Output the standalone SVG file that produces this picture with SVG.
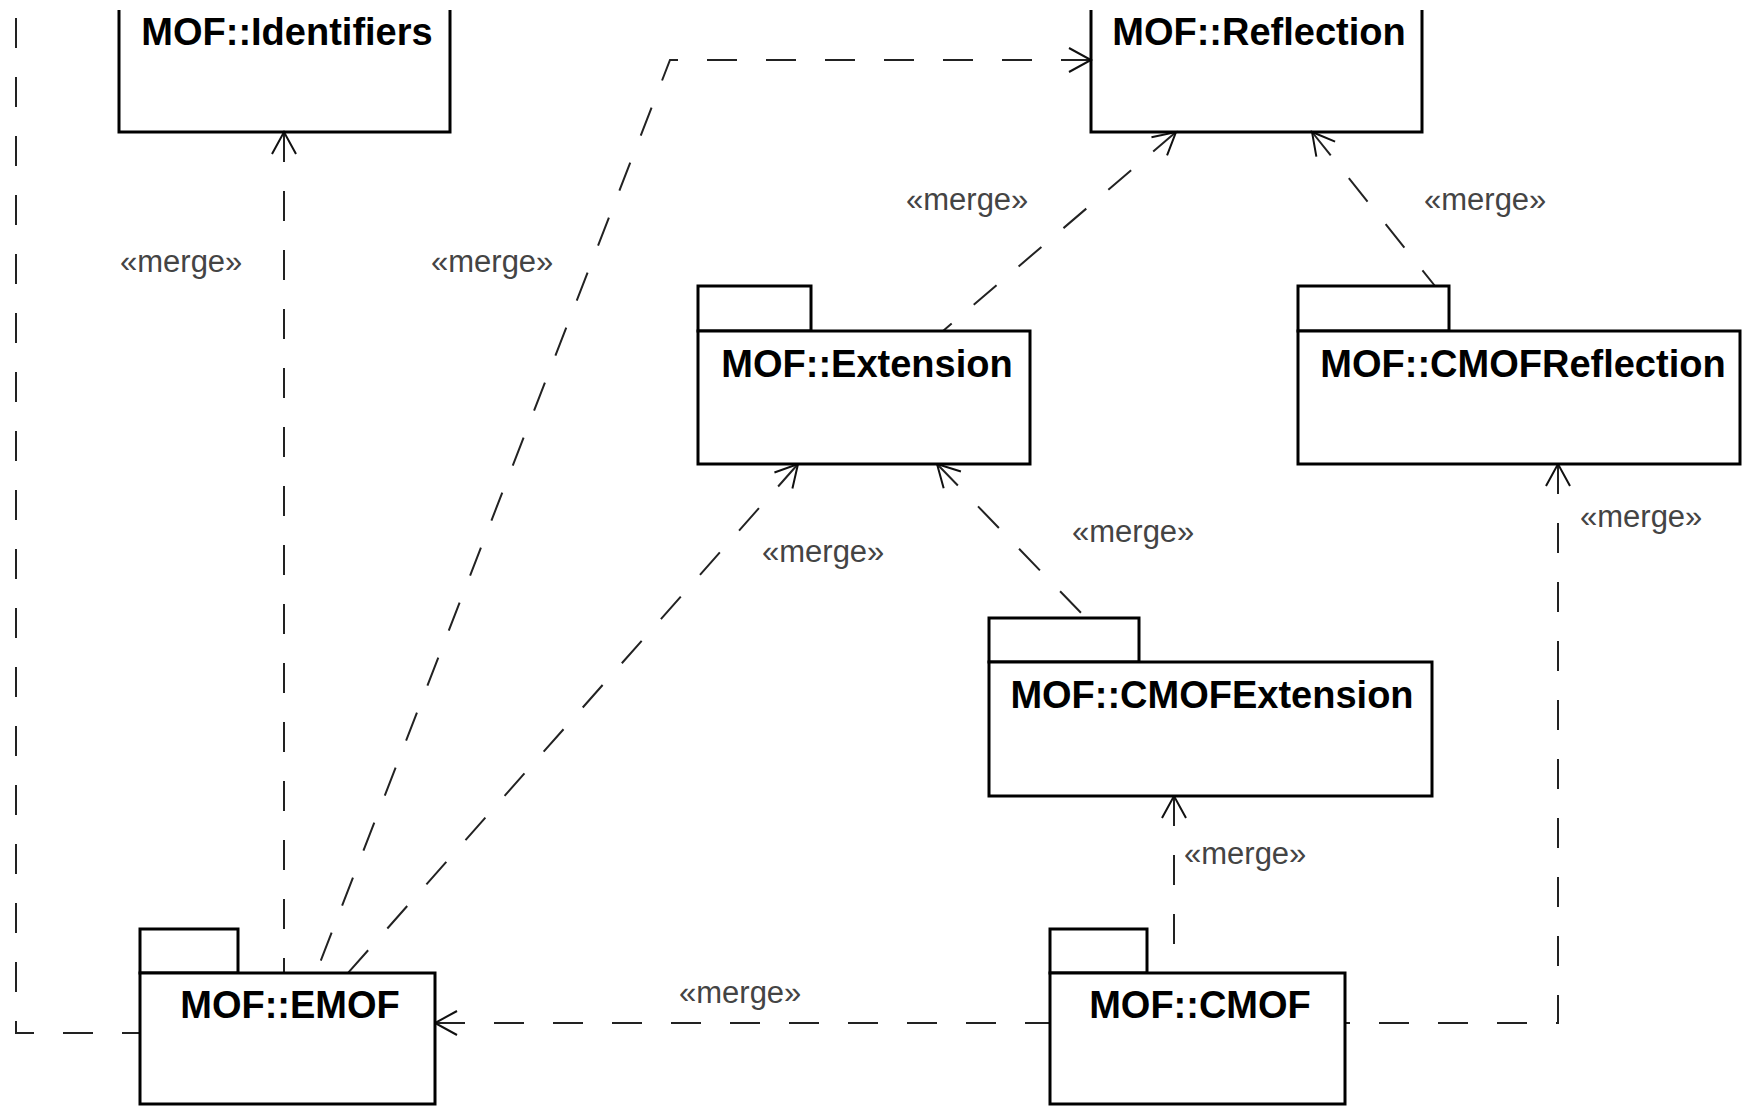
<svg xmlns="http://www.w3.org/2000/svg" width="1742" height="1106" viewBox="0 0 1742 1106">
<style>
.box{fill:#fff;stroke:#000;stroke-width:3}
.open{fill:none;stroke:#000;stroke-width:3}
.name{font-family:"Liberation Sans",Arial,sans-serif;font-weight:bold;font-size:38px;fill:#000;text-anchor:middle}
.dep{fill:none;stroke:#222;stroke-width:2;stroke-dasharray:30 29}
.lbl{font-family:"Liberation Sans",Arial,sans-serif;font-size:31px;fill:#444}
</style>
<defs>
<marker id="open" markerUnits="userSpaceOnUse" orient="auto-start-reverse" refX="0" refY="0" markerWidth="30" markerHeight="30" overflow="visible">
<path d="M-22,-12 L0,0 L-22,12" fill="none" stroke="#111" stroke-width="2"/>
</marker>
</defs>
<rect width="1742" height="1106" fill="#fff"/>
<g id="connectors">
<path class="dep" d="M16,18 V1033 H140"/>
<path class="dep" d="M284,132 V973" marker-start="url(#open)"/>
<path class="dep" d="M1091,60 H670 L316,973" marker-start="url(#open)"/>
<path class="dep" d="M798,464 L348,973" marker-start="url(#open)"/>
<path class="dep" d="M1176,132 L943,331" marker-start="url(#open)"/>
<path class="dep" d="M1312,132 L1435,286" marker-start="url(#open)"/>
<path class="dep" d="M937,464 L1086,618" marker-start="url(#open)"/>
<path class="dep" d="M1174,796 V973" marker-start="url(#open)"/>
<path class="dep" d="M435,1023 H1050" marker-start="url(#open)"/>
<path class="dep" d="M1558,464 V1023 H1345" marker-start="url(#open)"/>
<text class="lbl" x="120" y="272">«merge»</text>
<text class="lbl" x="431" y="272">«merge»</text>
<text class="lbl" x="906" y="210">«merge»</text>
<text class="lbl" x="1424" y="210">«merge»</text>
<text class="lbl" x="762" y="562">«merge»</text>
<text class="lbl" x="1072" y="542">«merge»</text>
<text class="lbl" x="1184" y="864">«merge»</text>
<text class="lbl" x="679" y="1003">«merge»</text>
<text class="lbl" x="1580" y="527">«merge»</text>
</g>
<g id="identifiers">
<path class="open" d="M119,10 V132 H450 V10"/>
<text class="name" x="287" y="45">MOF::Identifiers</text>
</g>
<g id="reflection">
<path class="open" d="M1091,10 V132 H1422 V10"/>
<text class="name" x="1259" y="45">MOF::Reflection</text>
</g>
<g id="extension">
<rect class="box" x="698" y="286" width="113" height="45"/>
<rect class="box" x="698" y="331" width="332" height="133"/>
<text class="name" x="867" y="377">MOF::Extension</text>
</g>
<g id="cmofreflection">
<rect class="box" x="1298" y="286" width="151" height="45"/>
<rect class="box" x="1298" y="331" width="442" height="133"/>
<text class="name" x="1523" y="377">MOF::CMOFReflection</text>
</g>
<g id="cmofextension">
<rect class="box" x="989" y="618" width="150" height="44"/>
<rect class="box" x="989" y="662" width="443" height="134"/>
<text class="name" x="1212" y="708">MOF::CMOFExtension</text>
</g>
<g id="emof">
<rect class="box" x="140" y="929" width="98" height="44"/>
<rect class="box" x="140" y="973" width="295" height="131"/>
<text class="name" x="290" y="1018">MOF::EMOF</text>
</g>
<g id="cmof">
<rect class="box" x="1050" y="929" width="97" height="44"/>
<rect class="box" x="1050" y="973" width="295" height="131"/>
<text class="name" x="1200" y="1018">MOF::CMOF</text>
</g>
</svg>
